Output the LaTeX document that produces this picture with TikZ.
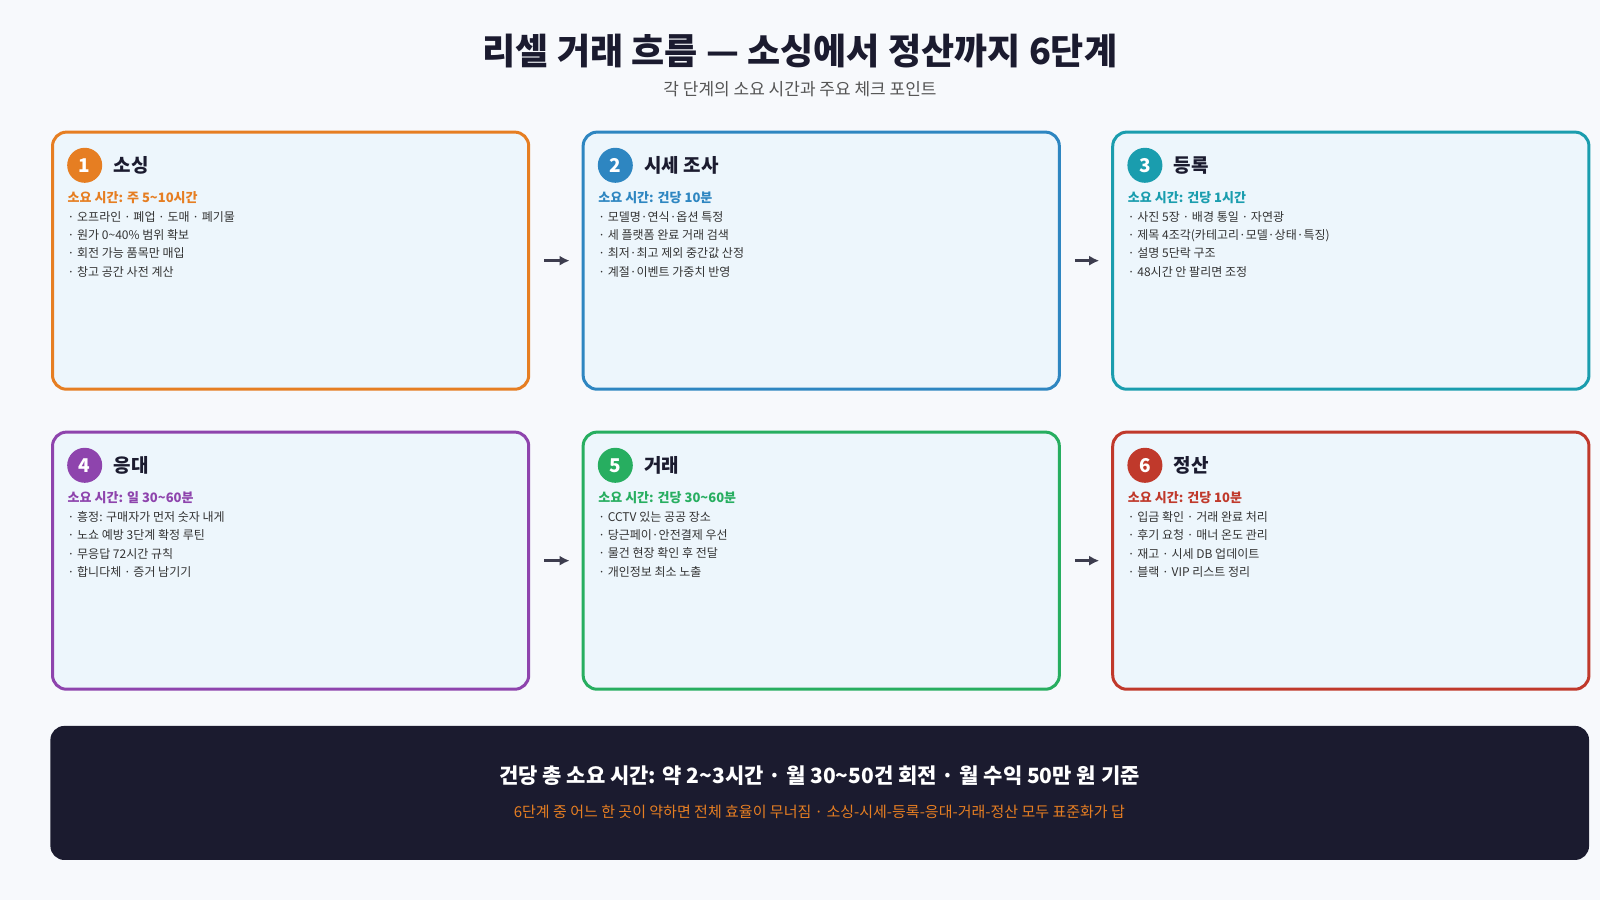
\documentclass[tikz,border=0pt]{standalone}
\usepackage{fontspec}
\setmainfont{Noto Sans CJK KR}
\usetikzlibrary{arrows.meta}
\definecolor{bg}{HTML}{F7F9FC}
\definecolor{cardfill}{HTML}{EDF6FC}
\definecolor{cO}{HTML}{E67E22}
\definecolor{cB}{HTML}{2E86C1}
\definecolor{cT}{HTML}{1A9DAE}
\definecolor{cP}{HTML}{8E44AD}
\definecolor{cG}{HTML}{27AE60}
\definecolor{cR}{HTML}{C0392B}
\definecolor{ink}{HTML}{1B1B2F}
\definecolor{txt}{HTML}{333333}
\definecolor{sub}{HTML}{555555}
\tikzset{
  card/.style={draw=#1, line width=1.5pt, fill=cardfill, rounded corners=7pt, minimum width=238pt, minimum height=128.5pt, anchor=north west, inner sep=0pt},
  num/.style={circle, fill=#1, minimum size=17.5pt, inner sep=0pt, text=white, font=\fontsize{9.5}{10}\selectfont\bfseries},
  ctitle/.style={anchor=west, inner sep=0pt, text=ink, font=\fontsize{9.5}{11}\selectfont\bfseries},
  ctime/.style={anchor=west, inner sep=0pt, text=#1, font=\fontsize{6.5}{8}\selectfont\bfseries},
  cbul/.style={anchor=north west, inner sep=0pt, text=txt, align=left, font=\fontsize{6}{9.1}\selectfont},
  flow/.style={-{Latex[length=5pt,width=5pt]}, line width=1.3pt, draw=ink!85}
}
\begin{document}
\begin{tikzpicture}[x=0.51pt,y=-0.51pt]
\fill[bg] (0,0) rectangle (1568,882);
\useasboundingbox (0,0) rectangle (1568,882);
\node[text=ink, font=\fontsize{18}{21}\selectfont\bfseries] (title) at (784,50) {리셀 거래 흐름 — 소싱에서 정산까지 6단계};
\node[text=sub, font=\fontsize{8.5}{10}\selectfont] (subt) at (784,87) {각 단계의 소요 시간과 주요 체크 포인트};
% card 1
\node[card=cO] (boxA) at (50,128) {};
\node[num=cO] (nA) at (83,162) {1};
\node[ctitle] (tA) at (111,162) {소싱};
\node[ctime=cO] (mA) at (66,194) {소요 시간: 주 5\textasciitilde10시간};
\node[cbul] (bA) at (66,207) {· 오프라인 · 폐업 · 도매 · 폐기물\\· 원가 0\textasciitilde40\% 범위 확보\\· 회전 가능 품목만 매입\\· 창고 공간 사전 계산};
% card 2
\node[card=cB] (boxB) at (570,128) {};
\node[num=cB] (nB) at (603,162) {2};
\node[ctitle] (tB) at (631,162) {시세 조사};
\node[ctime=cB] (mB) at (586,194) {소요 시간: 건당 10분};
\node[cbul] (bB) at (586,207) {· 모델명·연식·옵션 특정\\· 세 플랫폼 완료 거래 검색\\· 최저·최고 제외 중간값 산정\\· 계절·이벤트 가중치 반영};
% card 3
\node[card=cT] (boxC) at (1089,128) {};
\node[num=cT] (nC) at (1122,162) {3};
\node[ctitle] (tC) at (1150,162) {등록};
\node[ctime=cT] (mC) at (1105,194) {소요 시간: 건당 1시간};
\node[cbul] (bC) at (1105,207) {· 사진 5장 · 배경 통일 · 자연광\\· 제목 4조각(카테고리·모델·상태·특징)\\· 설명 5단락 구조\\· 48시간 안 팔리면 조정};
% card 4
\node[card=cP] (boxD) at (50,422) {};
\node[num=cP] (nD) at (83,456) {4};
\node[ctitle] (tD) at (111,456) {응대};
\node[ctime=cP] (mD) at (66,488) {소요 시간: 일 30\textasciitilde60분};
\node[cbul] (bD) at (66,501) {· 흥정: 구매자가 먼저 숫자 내게\\· 노쇼 예방 3단계 확정 루틴\\· 무응답 72시간 규칙\\· 합니다체 · 증거 남기기};
% card 5
\node[card=cG] (boxE) at (570,422) {};
\node[num=cG] (nE) at (603,456) {5};
\node[ctitle] (tE) at (631,456) {거래};
\node[ctime=cG] (mE) at (586,488) {소요 시간: 건당 30\textasciitilde60분};
\node[cbul] (bE) at (586,501) {· CCTV 있는 공공 장소\\· 당근페이·안전결제 우선\\· 물건 현장 확인 후 전달\\· 개인정보 최소 노출};
% card 6
\node[card=cR] (boxF) at (1089,422) {};
\node[num=cR] (nF) at (1122,456) {6};
\node[ctitle] (tF) at (1150,456) {정산};
\node[ctime=cR] (mF) at (1105,488) {소요 시간: 건당 10분};
\node[cbul] (bF) at (1105,501) {· 입금 확인 · 거래 완료 처리\\· 후기 요청 · 매너 온도 관리\\· 재고 · 시세 DB 업데이트\\· 블랙 · VIP 리스트 정리};
% arrows
\draw[flow] ([xshift=7pt]boxA.east) -- ([xshift=-6pt]boxB.west);
\draw[flow] ([xshift=7pt]boxB.east) -- ([xshift=-6pt]boxC.west);
\draw[flow] ([xshift=7pt]boxD.east) -- ([xshift=-6pt]boxE.west);
\draw[flow] ([xshift=7pt]boxE.east) -- ([xshift=-6pt]boxF.west);
% summary
\node[fill=ink, rounded corners=7pt, minimum width=769pt, minimum height=67pt, anchor=north west, inner sep=0pt] (sum) at (49,711) {};
\node[text=white, font=\fontsize{10.5}{12}\selectfont\bfseries] (sumA) at (803,760) {건당 총 소요 시간: 약 2\textasciitilde3시간 · 월 30\textasciitilde50건 회전 · 월 수익 50만 원 기준};
\node[text=cO, font=\fontsize{7.5}{9}\selectfont] (sumB) at (803,796) {6단계 중 어느 한 곳이 약하면 전체 효율이 무너짐 · 소싱-시세-등록-응대-거래-정산 모두 표준화가 답};
\end{tikzpicture}
\end{document}
